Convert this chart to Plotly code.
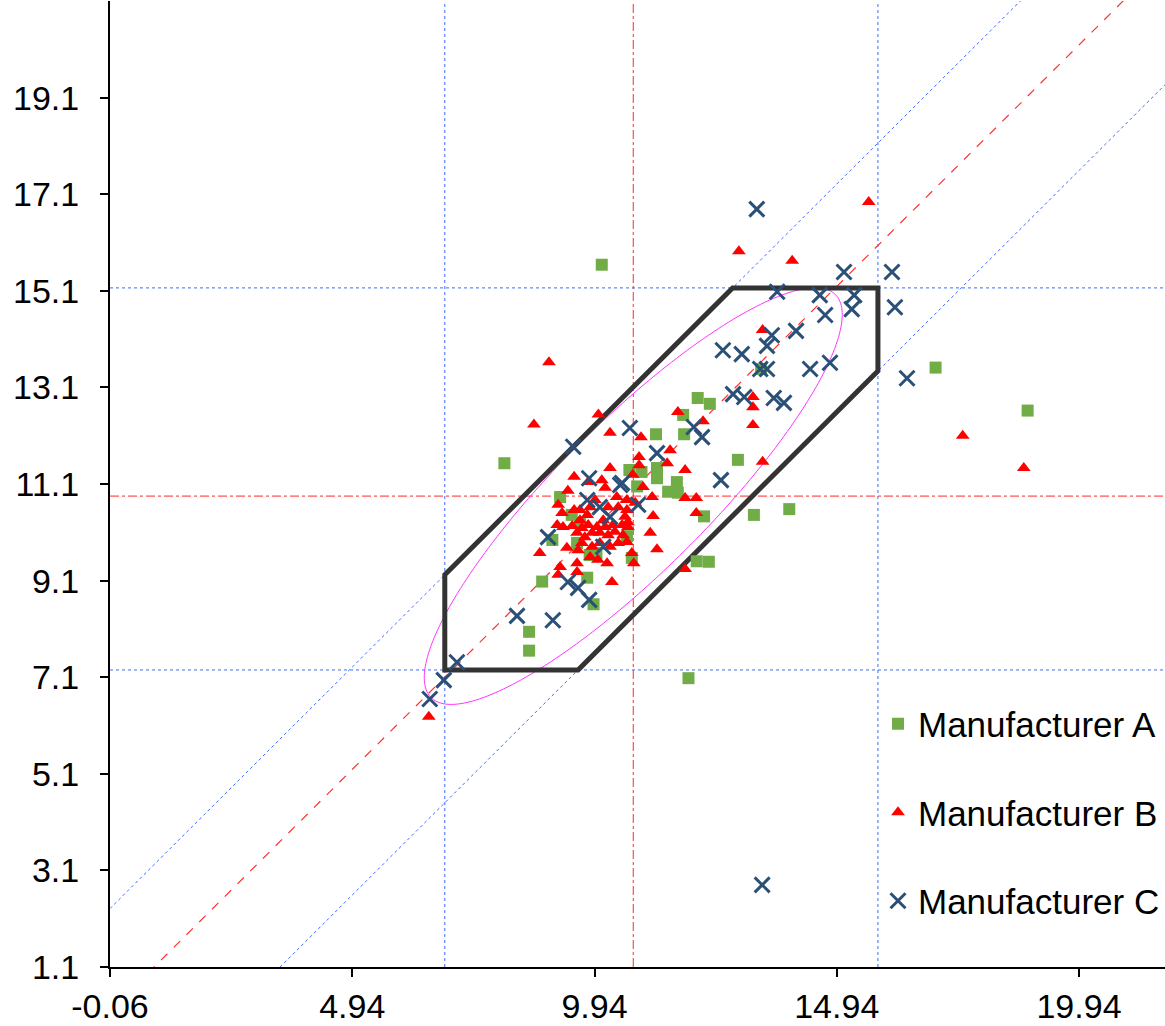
import numpy as np
import plotly.graph_objects as go

# ---------------- data ----------------
a_x = [10.09, 8.08, 16.98, 18.88, 11.88, 8.59, 8.59, 8.86, 9.79, 9.92, 9.07, 9.58, 9.64, 9.47,
       9.23, 9.98, 10.61, 10.71, 10.66, 10.91, 11.23, 11.23, 11.64, 11.46, 11.66, 12.20, 13.23,
       13.96, 12.05, 12.30, 12.90, 13.38, 12.07, 12.32, 11.77, 11.21, 11.79, 10.82, 9.84]
a_y = [15.64, 11.53, 13.51, 12.62, 7.08, 8.04, 7.65, 9.08, 9.16, 8.61, 9.94, 9.88, 10.29, 10.46,
       10.83, 9.67, 10.02, 9.57, 11.39, 11.35, 11.43, 11.22, 11.14, 10.94, 10.92, 10.43, 10.46,
       10.58, 9.50, 9.49, 11.60, 13.48, 12.88, 12.76, 12.53, 12.13, 12.13, 11.05, 9.63]

b_x = [15.60, 12.92, 14.02, 9.00, 8.69, 10.02, 10.26, 17.54, 18.80, 6.52, 13.41, 13.21, 13.21,
       13.21, 11.66, 12.18, 13.41, 10.90, 11.50, 11.44, 10.86, 10.86, 10.73, 11.81, 10.94, 11.13,
       11.81, 12.04, 12.04, 11.15, 11.09, 11.23, 10.71, 10.75, 11.81, 10.57, 10.63,
       9.52, 10.26, 9.39, 9.81, 10.09, 10.16, 10.40, 10.61, 9.19, 9.27, 9.52, 9.64, 9.79, 9.85,
       9.95, 10.22, 10.43, 10.61, 10.78, 9.17, 9.29, 9.48, 9.64, 9.68, 9.81, 9.99, 10.12, 10.16,
       10.32, 10.51, 10.63, 9.58, 9.74, 9.89, 10.05, 10.22, 10.36, 10.53, 9.68, 9.89, 10.05,
       10.26, 10.43, 10.61, 9.37, 9.60, 8.81, 9.85, 10.01, 10.20, 9.23, 9.58, 9.58, 9.19, 10.30]
b_y = [16.94, 15.92, 15.72, 13.62, 12.33, 12.54, 12.16, 12.10, 11.43, 6.28, 14.29, 12.90, 12.69,
       12.32, 12.59, 12.40, 11.56, 12.07, 11.80, 11.53, 11.66, 11.49, 11.29, 11.39, 11.04, 10.83,
       10.81, 10.81, 10.50, 10.44, 10.09, 9.75, 9.67, 9.46, 9.34, 10.42, 10.21,
       11.25, 11.43, 10.96, 11.14, 11.18, 11.02, 10.83, 10.77, 10.67, 10.50, 10.56, 10.56, 10.46,
       10.62, 10.77, 10.62, 10.62, 10.56, 10.71, 10.25, 10.21, 10.23, 10.35, 10.19, 10.25, 10.21,
       10.35, 10.21, 10.25, 10.25, 10.31, 10.09, 10.00, 10.09, 10.09, 10.04, 10.11, 10.04, 9.88,
       9.80, 9.88, 9.80, 9.88, 9.90, 9.78, 9.73, 9.67, 9.59, 9.53, 9.46, 9.38, 9.46, 9.28, 9.22,
       9.07]

c_x = [13.29, 13.40, 15.09, 16.08, 13.71, 14.59, 15.30, 15.25, 16.14, 14.70, 14.10, 13.60, 13.50,
       12.59, 12.98, 13.36, 13.50, 14.39, 14.80, 16.39, 12.80, 13.03, 13.64, 13.85, 10.67, 11.99,
       12.16, 11.23, 12.55, 10.84, 10.51, 9.50, 9.83, 10.47, 9.79, 10.05, 10.26, 8.98, 10.12,
       9.39, 9.60, 9.83, 8.34, 9.08, 7.10, 6.83, 6.54]
c_y = [16.79, 2.80, 15.49, 15.49, 15.08, 15.01, 15.01, 14.72, 14.76, 14.60, 14.27, 14.18, 13.96,
       13.87, 13.79, 13.48, 13.48, 13.48, 13.61, 13.29, 12.96, 12.90, 12.88, 12.78, 12.26, 12.28,
       12.07, 11.74, 11.18, 10.67, 11.12, 11.87, 11.22, 11.08, 10.77, 10.62, 10.42, 10.00, 9.80,
       9.07, 8.95, 8.70, 8.37, 8.28, 7.41, 7.04, 6.65]

series_names = ["Manufacturer A", "Manufacturer B", "Manufacturer C"]

x_ticks = [-0.06, 4.94, 9.94, 14.94, 19.94]
x_tick_labels = ["-0.06", "4.94", "9.94", "14.94", "19.94"]
y_ticks = [1.1, 3.1, 5.1, 7.1, 9.1, 11.1, 13.1, 15.1, 17.1, 19.1]
y_tick_labels = ["1.1", "3.1", "5.1", "7.1", "9.1", "11.1", "13.1", "15.1", "17.1", "19.1"]

x_range = [-0.06, 21.715]
y_range = [1.1, 21.1]

# reference lines / limits
center_x = 10.74
center_y = 10.85
x_lo, x_hi = 6.85, 15.79
y_lo, y_hi = 7.25, 15.16
diag_up = 2.37      # upper limit line  y = x + diag_up
diag_lo = 2.35      # lower limit line  y = x - diag_lo
reg_icpt = 0.25     # red dashed line   y = x + reg_icpt

# ellipse parameters
ell_a, ell_b, ell_angle = 5.9, 1.55, 45.0

# ---------------- figure ----------------
fig = go.Figure()

FONT = "Liberation Sans, Arial, sans-serif"
blue = "#3f6bff"
red = "#ff2a2a"


def seg(x0, y0, x1, y1, color, dash, xref="x", yref="y", width=1):
    fig.add_shape(type="line", xref=xref, yref=yref, x0=x0, y0=y0, x1=x1, y1=y1,
                  line=dict(color=color, width=width, dash=dash), layer="below")


# horizontal / vertical reference lines
seg(x_lo, 0, x_lo, 1, blue, "dot", yref="paper")
seg(x_hi, 0, x_hi, 1, blue, "dot", yref="paper")
seg(0, y_lo, 1, y_lo, blue, "dot", xref="paper")
seg(0, y_hi, 1, y_hi, blue, "dot", xref="paper")
seg(center_x, 0, center_x, 1, red, "dashdot", yref="paper")
seg(0, center_y, 1, center_y, red, "dashdot", xref="paper")

# diagonal lines (clipped to plot area)
x0d, x1d = x_range
seg(x0d, x0d + diag_up, x1d, x1d + diag_up, blue, "dot")
seg(x0d, x0d - diag_lo, x1d, x1d - diag_lo, blue, "dot")
seg(x0d, x0d + reg_icpt, x1d, x1d + reg_icpt, "#ff3030", "dash", width=1.2)

# ellipse as an SVG path shape
t = np.linspace(0, 2 * np.pi, 240)
th = np.deg2rad(ell_angle)
ex = center_x + ell_a * np.cos(t) * np.cos(th) - ell_b * np.sin(t) * np.sin(th)
ey = center_y + ell_a * np.cos(t) * np.sin(th) + ell_b * np.sin(t) * np.cos(th)
ell_path = "M " + " L ".join(f"{float(a):.4f},{float(b):.4f}" for a, b in zip(ex, ey)) + " Z"
fig.add_shape(type="path", xref="x", yref="y", path=ell_path,
              line=dict(color="#ff33ff", width=1), layer="below")

# hexagon limit region as a path shape
hx = [x_lo, x_lo, y_lo + diag_lo, x_hi, x_hi, y_hi - diag_up]
hy = [x_lo + diag_up, y_lo, y_lo, x_hi - diag_lo, y_hi, y_hi]
hex_path = "M " + " L ".join(f"{a:.4f},{b:.4f}" for a, b in zip(hx, hy)) + " Z"
fig.add_shape(type="path", xref="x", yref="y", path=hex_path,
              line=dict(color="#333333", width=5), layer="below")

fig.add_trace(go.Scatter(x=a_x, y=a_y, mode="markers", name=series_names[0], legendgroup="a",
                         marker=dict(symbol="square", size=12, color="#70ad47")))
fig.add_trace(go.Scatter(x=b_x, y=b_y, mode="markers", name=series_names[1], legendgroup="b",
                         marker=dict(symbol="triangle-up", size=12, color="#ff0000")))
fig.add_trace(go.Scatter(x=c_x, y=c_y, mode="markers", name=series_names[2], legendgroup="c",
                         marker=dict(symbol="x-thin", size=15, color="#2a5078",
                                     line=dict(color="#2a5078", width=3))))

fig.update_layout(
    width=1165, height=1026,
    margin=dict(l=110, r=0, t=1, b=59),
    paper_bgcolor="white", plot_bgcolor="white",
    font=dict(family=FONT, size=34, color="black"),
    showlegend=True,
    legend=dict(x=1, xanchor="right", y=0.16, yanchor="middle",
                bgcolor="rgba(0,0,0,0)", font=dict(size=35, family=FONT),
                tracegroupgap=40, traceorder="grouped", itemsizing="trace"),
    xaxis=dict(range=x_range, tickvals=x_ticks, ticktext=x_tick_labels, showgrid=False,
               zeroline=False, showline=True, linecolor="black", linewidth=2,
               ticks="outside", ticklen=8, tickwidth=2, tickcolor="black",
               tickfont=dict(size=34, family=FONT)),
    yaxis=dict(range=y_range, tickvals=y_ticks, ticktext=y_tick_labels, showgrid=False,
               zeroline=False, showline=True, linecolor="black", linewidth=2,
               ticks="outside", ticklen=8, tickwidth=2, tickcolor="black",
               ticklabelstandoff=14, tickfont=dict(size=34, family=FONT)),
)

fig.write_html("out.html")
